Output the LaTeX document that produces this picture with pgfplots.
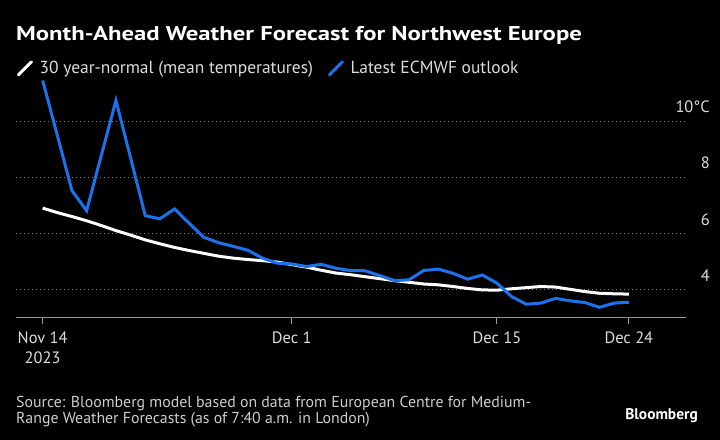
\documentclass[border=0pt]{standalone}
\usepackage{fontspec}
\setmainfont{PT Sans}
\newfontfamily\titlefont[FakeStretch=1.24]{PT Sans Bold}
\usepackage{pgfplots}
\pgfplotsset{compat=1.18}
\definecolor{bblue}{RGB}{28,114,236}
\definecolor{gridc}{RGB}{125,125,125}
\definecolor{axc}{RGB}{150,150,150}
\definecolor{txt}{RGB}{220,220,220}
\definecolor{srct}{RGB}{205,205,205}

\pgfplotstableread{
d v
0 11.45
1 9.50
2 7.53
3 6.82
4 8.78
5 10.74
6 8.70
7 6.64
8 6.53
9 6.88
10 6.37
11 5.87
12 5.68
13 5.55
14 5.41
15 5.13
16 4.95
17 4.92
18 4.83
19 4.91
20 4.77
21 4.69
22 4.68
23 4.51
24 4.33
25 4.36
26 4.69
27 4.74
28 4.59
29 4.38
30 4.53
31 4.24
32 3.76
33 3.49
34 3.53
35 3.70
36 3.61
37 3.55
38 3.38
39 3.53
40 3.56
}\ecmwf

\pgfplotstableread{
d v
0 6.91
1 6.75
2 6.61
3 6.46
4 6.29
5 6.11
6 5.95
7 5.78
8 5.64
9 5.51
10 5.40
11 5.30
12 5.20
13 5.13
14 5.08
15 5.04
16 4.99
17 4.90
18 4.81
19 4.70
20 4.60
21 4.54
22 4.47
23 4.40
24 4.33
25 4.27
26 4.21
27 4.18
28 4.12
29 4.05
30 4.00
31 3.99
32 4.04
33 4.08
34 4.12
35 4.10
36 4.02
37 3.94
38 3.88
39 3.86
40 3.85
}\normal

\begin{document}
\begin{tikzpicture}[x=1bp,y=1bp]
\fill[black] (0,0) rectangle (720,440);
\path[use as bounding box] (0,0) rectangle (720,440);
\node[anchor=base west, text=white, inner sep=0, font=\titlefont\fontsize{20}{24}\selectfont] at (16,399) {Month-Ahead Weather Forecast for Northwest Europe};
\begin{axis}[
  at={(15.7bp,122bp)}, anchor=south west,
  scale only axis, width=670.3bp, height=241.7bp,
  xmin=-1.84, xmax=43.9, ymin=3, ymax=11.6,
  clip=false,
  axis x line*=bottom, axis y line*=right,
  x axis line style={draw=axc, line width=1bp},
  y axis line style={draw=none},
  xtick={0,17,31,40},
  xticklabels={{Nov 14\\2023},{Dec 1},{Dec 15},{Dec 24}},
  xtick style={draw=axc, line width=1bp},
  tick align=outside,
  major tick length=6bp,
  ytick={4,6,8,10},
  yticklabels={4,6,8,10°C},
  ytick style={draw=none},
  ymajorgrids,
  major grid style={draw=gridc, line width=1bp, dash pattern=on 1.5bp off 2.5bp},
  xticklabel style={anchor=north, inner sep=0, yshift=-8bp, align=center, text=txt, font=\fontsize{16.5}{20}\selectfont},
  yticklabel style={anchor=base east, inner sep=0, xshift=18bp, yshift=8.5bp, text=txt, font=\fontsize{16.5}{20}\selectfont},
  legend columns=2,
  legend cell align=left,
  legend style={at={(axis description cs:0.0019,1.033)}, anchor=west, draw=none, fill=none, inner sep=0, outer sep=0,
    nodes={inner sep=0, text=txt, font=\fontsize{17.5}{20}\selectfont},
    /tikz/every odd column/.append style={column sep=6.7bp},
    /tikz/every even column/.append style={column sep=15bp}},
  legend image code/.code={\draw[#1, line cap=round] (0bp,-6.5bp) -- (13bp,6.5bp);},
]
\addplot[white, line width=3bp] table[x=d, y=v] {\normal};
\addlegendentry{30 year-normal (mean temperatures)}
\addplot[bblue, line width=3bp] table[x=d, y=v] {\ecmwf};
\addlegendentry{Latest ECMWF outlook}
\end{axis}
\node[anchor=base west, inner sep=0, text=srct, font=\fontsize{15.9}{16}\selectfont] at (16,32.7) {Source: Bloomberg model based on data from European Centre for Medium-};
\node[anchor=base west, inner sep=0, text=srct, font=\fontsize{15.9}{16}\selectfont] at (16,16.7) {Range Weather Forecasts (as of 7:40 a.m. in London)};
\node[anchor=base east, inner sep=0, text=white, font=\bfseries\fontsize{15.5}{18}\selectfont] at (698,20) {Bloomberg};
\end{tikzpicture}
\end{document}
